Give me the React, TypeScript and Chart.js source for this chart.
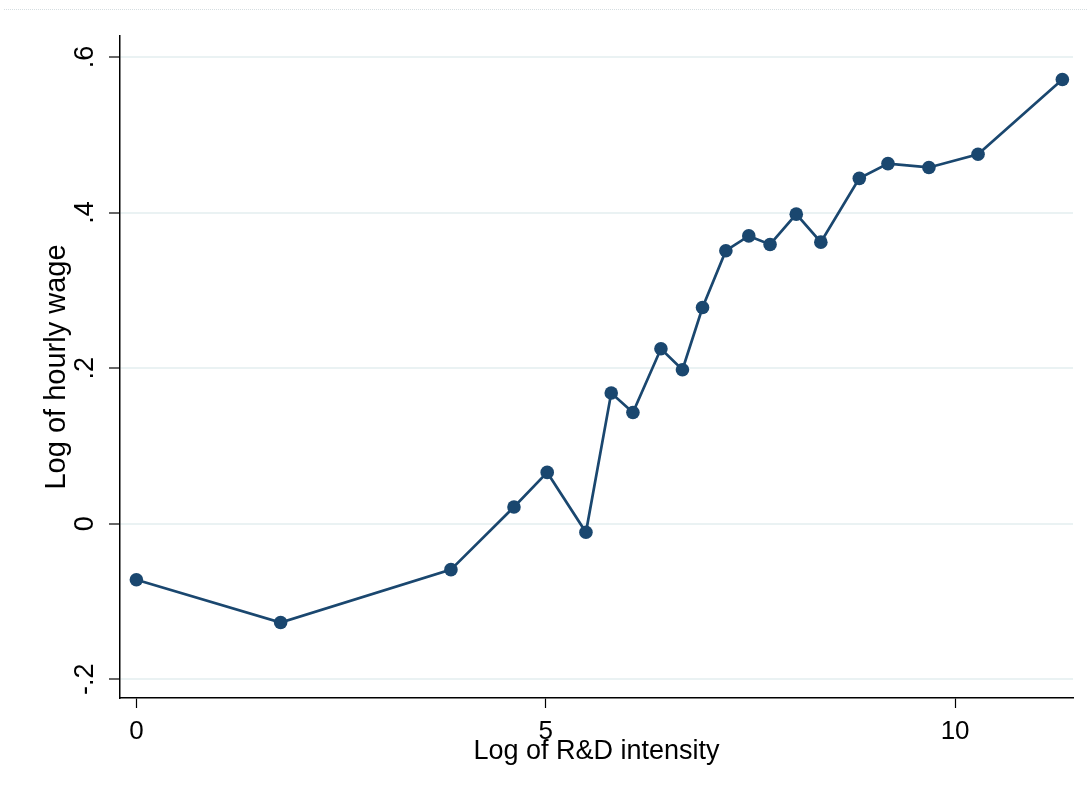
import React, { useEffect, useRef } from "react";
import { Chart, registerables } from "chart.js";

Chart.register(...registerables);

const rdIntensity = [0, 1.762, 3.842, 4.612, 5.018, 5.491, 5.8, 6.065, 6.407, 6.67, 6.915, 7.2, 7.48, 7.74, 8.06, 8.36, 8.83, 9.18, 9.68, 10.28, 11.31];
const hourlyWage = [-0.072, -0.127, -0.059, 0.0216, 0.066, -0.011, 0.168, 0.143, 0.225, 0.198, 0.278, 0.351, 0.37, 0.359, 0.398, 0.362, 0.444, 0.463, 0.458, 0.475, 0.571];
const xTicks = [0, 5, 10];
const yTicks = [-0.2, 0, 0.2, 0.4, 0.6];
const yTickLabels = ["-.2", "0", ".2", ".4", ".6"];
const xTitle = "Log of R&D intensity";
const yTitle = "Log of hourly wage";

const FONT = "'Liberation Sans', Arial, sans-serif";
const NAVY = "#1a476f";
const GRID = "#eaf2f3";

export default function App() {
  const ref = useRef<HTMLCanvasElement>(null);

  useEffect(() => {
    if (!ref.current) return;
    const chart = new Chart(ref.current, {
      type: "scatter",
      data: {
        datasets: [
          {
            data: rdIntensity.map((x, i) => ({ x, y: hourlyWage[i] })),
            showLine: true,
            borderColor: NAVY,
            borderWidth: 2.7,
            backgroundColor: NAVY,
            pointBackgroundColor: NAVY,
            pointBorderColor: NAVY,
            pointBorderWidth: 0,
            pointRadius: 6.8,
            tension: 0,
          },
        ],
      },
      options: {
        animation: false,
        responsive: false,
        maintainAspectRatio: false,
        layout: { padding: { top: 36, right: 18, bottom: 0, left: 0 } },
        plugins: { legend: { display: false }, tooltip: { enabled: false } },
        scales: {
          x: {
            type: "linear",
            min: -0.2,
            max: 11.44,
            afterFit: (s: any) => {
              s.height = 102;
            },
            afterBuildTicks: (s: any) => {
              s.ticks = xTicks.map((v) => ({ value: v }));
            },
            grid: {
              drawOnChartArea: false,
              drawTicks: true,
              tickLength: 10,
              tickColor: "#000",
              tickWidth: 1.2,
            },
            border: { display: true, color: "#000", width: 1.5 },
            ticks: {
              color: "#000",
              font: { family: FONT, size: 26 },
              padding: 8,
              maxRotation: 0,
              callback: (v: any) => String(v),
            },
            title: {
              display: true,
              text: xTitle,
              color: "#000",
              font: { family: FONT, size: 27 },
              padding: { top: 0, bottom: 32 },
            },
          },
          y: {
            type: "linear",
            min: -0.224,
            max: 0.627,
            afterFit: (s: any) => {
              s.width = 120;
            },
            afterBuildTicks: (s: any) => {
              s.ticks = yTicks.map((v) => ({ value: v }));
            },
            grid: {
              color: GRID,
              lineWidth: 2,
              drawTicks: true,
              tickLength: 11,
              tickColor: "#000",
              tickWidth: 1.2,
            },
            border: { display: true, color: "#000", width: 1.5 },
            ticks: {
              color: "#000",
              font: { family: FONT, size: 27 },
              padding: 8,
              minRotation: 90,
              maxRotation: 90,
              crossAlign: "center",
              callback: (v: any) => {
                const i = yTicks.findIndex((t) => Math.abs(t - v) < 1e-9);
                return i >= 0 ? yTickLabels[i] : "";
              },
            },
            title: {
              display: true,
              text: yTitle,
              color: "#000",
              font: { family: FONT, size: 29 },
              padding: { top: 40, bottom: 0 },
            },
          },
        },
      },
    });
    return () => chart.destroy();
  }, []);

  return (
    <div style={{ position: "fixed", left: 0, top: 0, width: 1091, height: 800, background: "#fff" }}>
      <div
        style={{
          position: "absolute",
          left: 4,
          top: 9,
          width: 1083,
          height: 0,
          borderTop: "1px dotted #d5dde0",
        }}
      />
      <canvas ref={ref} width={1091} height={800} style={{ position: "absolute", left: 0, top: 0 }} />
    </div>
  );
}
